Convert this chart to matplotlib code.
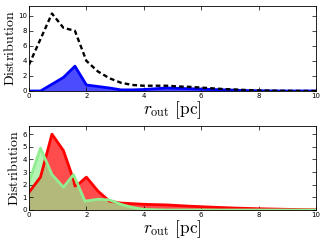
import matplotlib
matplotlib.use("Agg")
import matplotlib.pyplot as plt
import numpy as np

plt.rcParams["mathtext.fontset"] = "cm"

# top panel: total (dashed) and blue subset
x_top = [0, 0.4, 0.8, 1.2, 1.6, 2.0, 2.4, 2.8, 3.2, 3.6, 4.0, 4.4, 4.8, 5.2,
         5.6, 6.0, 6.4, 6.8, 7.2, 7.6, 8.0, 8.4, 8.8, 9.2, 9.6, 10.0]
total = [3.5, 6.9, 10.3, 8.4, 8.0, 4.0, 2.6, 1.7, 1.1, 0.8, 0.7, 0.7, 0.7, 0.6,
         0.55, 0.45, 0.35, 0.25, 0.2, 0.12, 0.08, 0.05, 0.03, 0.02, 0.01, 0.0]
blue = [0, 0, 0.9, 1.8, 3.3, 0.8, 0.6, 0.4, 0.15, 0.15, 0.2, 0.3, 0.4, 0.35,
        0.3, 0.25, 0.2, 0.15, 0.1, 0.05, 0.03, 0.01, 0, 0, 0, 0]

# bottom panel: red and green
x_red = [0, 0.4, 0.8, 1.2, 1.55, 1.6, 1.7, 2.0, 2.4, 2.8, 3.2, 3.6, 4.0, 4.8,
         5.6, 6.4, 7.2, 8.0, 8.8, 9.6, 10.0]
red = [1.4, 2.6, 6.0, 4.7, 2.4, 1.9, 2.0, 2.6, 1.5, 0.7, 0.55, 0.5, 0.45, 0.4,
       0.3, 0.22, 0.15, 0.1, 0.06, 0.03, 0.02]
x_green = [0, 0.4, 0.8, 1.2, 1.55, 1.95, 2.4, 2.8, 3.2, 3.6, 4.0, 4.4, 4.8,
           6.0, 8.0, 10.0]
green = [2.2, 4.9, 2.8, 1.8, 2.8, 0.7, 0.85, 0.8, 0.45, 0.2, 0.05, 0.02, 0,
         0, 0, 0]

xlab = r"$r_{\rm out}\ [\rm pc]$"
ylab = r"$\mathrm{Distribution}$"

fig = plt.figure(figsize=(3.27, 2.45), dpi=100)
ax1 = fig.add_axes([0.0887, 0.6286, 0.8777, 0.3469])
ax2 = fig.add_axes([0.0887, 0.1429, 0.8777, 0.343])

ax1.fill_between(x_top, blue, color="blue", alpha=0.7, lw=0)
ax1.plot(x_top, blue, color="blue", lw=2)
ax1.plot(x_top, total, color="black", lw=1.7, ls="--", dashes=(2.0, 1.3))
ax1.set_ylim(0, 11.3)
ax1.set_yticks([0, 2, 4, 6, 8, 10])

ax2.fill_between(x_red, red, color="red", alpha=0.7, lw=0)
ax2.fill_between(x_green, green, color="lightgreen", alpha=0.68, lw=0)
ax2.plot(x_red, red, color="red", lw=2)
ax2.plot(x_green, green, color="lightgreen", lw=2)
ax2.set_ylim(0, 6.65)
ax2.set_yticks([0, 1, 2, 3, 4, 5, 6])

for ax in (ax1, ax2):
    ax.set_xlim(0, 10)
    ax.set_xticks([0, 2, 4, 6, 8, 10])
    ax.tick_params(direction="in", top=True, right=True, labelsize=5,
                   length=3, width=0.5, pad=1.5)
    ax.set_xlabel(xlab, fontsize=12.5, labelpad=0)
    ax.set_ylabel(ylab, fontsize=10, labelpad=1)
    for s in ax.spines.values():
        s.set_linewidth(0.6)

fig.savefig("out.png", dpi=100)
